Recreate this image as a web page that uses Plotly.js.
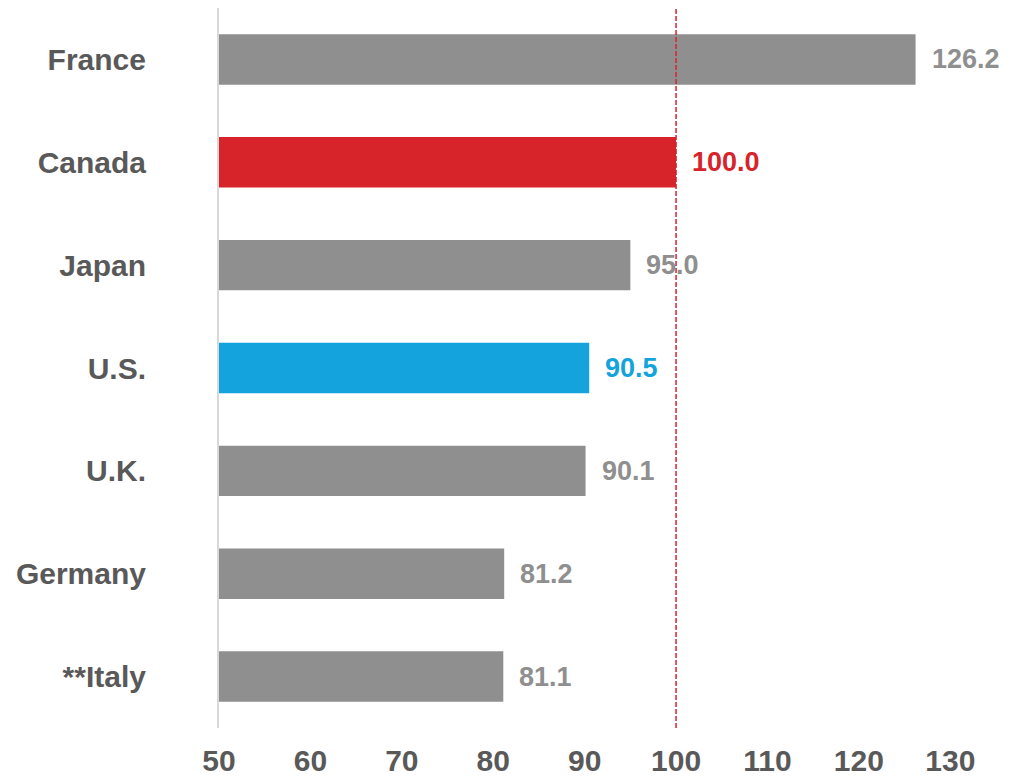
<!DOCTYPE html>
<html>
<head>
<meta charset="utf-8">
<script src="https://cdn.plot.ly/plotly-3.0.1.min.js"></script>
<style>
html,body{margin:0;padding:0;background:#fff;}
#chart{width:1015px;height:780px;}
</style>
</head>
<body>
<div id="chart"></div>
<script>
const countries = ["France", "Canada", "Japan", "U.S.", "U.K.", "Germany", "**Italy"];
const values = [126.2, 100.0, 95.0, 90.5, 90.1, 81.2, 81.1];
const barColors = ["#8f8f8f", "#d7232a", "#8f8f8f", "#14a3dc", "#8f8f8f", "#8f8f8f", "#8f8f8f"];
const labelColors = ["#8f8f8f", "#d7232a", "#8f8f8f", "#14a3dc", "#8f8f8f", "#8f8f8f", "#8f8f8f"];
const tickVals = [50, 60, 70, 80, 90, 100, 110, 120, 130];
const refValue = 100;

const FONT = "Liberation Sans, Arial, Helvetica, sans-serif";

const trace = {
  type: "bar",
  orientation: "h",
  y: countries,
  x: values,
  base: 0,
  marker: {color: barColors, line: {width: 0}},
  hoverinfo: "none",
  cliponaxis: false
};

const annotations = countries.map((c, i) => ({
  x: values[i],
  y: c,
  xref: "x",
  yref: "y",
  text: values[i].toFixed(1),
  showarrow: false,
  xanchor: "left",
  yanchor: "middle",
  xshift: 14,
  font: {family: FONT, size: 27, color: labelColors[i], weight: "bold"}
}));

const layout = {
  width: 1015,
  height: 780,
  margin: {l: 219, r: 19, t: 8, b: 52},
  paper_bgcolor: "#ffffff",
  plot_bgcolor: "#ffffff",
  showlegend: false,
  bargap: 0.51,
  xaxis: {
    range: [50, 135],
    tickvals: tickVals,
    ticktext: tickVals.map(String),
    showgrid: false,
    zeroline: false,
    showline: false,
    ticks: "",
    ticklabelstandoff: 12,
    tickfont: {family: FONT, size: 30, color: "#595959", weight: "bold"},
    fixedrange: true
  },
  yaxis: {
    autorange: "reversed",
    showgrid: false,
    zeroline: false,
    showline: true,
    linecolor: "#d9d9d9",
    linewidth: 2,
    ticks: "",
    ticklabelstandoff: 65,
    tickfont: {family: FONT, size: 30, color: "#595959", weight: "bold"},
    fixedrange: true
  },
  shapes: [{
    type: "line",
    xref: "x",
    yref: "paper",
    x0: refValue, x1: refValue,
    y0: 0, y1: 1,
    line: {color: "#d7232a", width: 1.5, dash: "5px,2px"}
  }],
  annotations: annotations
};

Plotly.newPlot("chart", [trace], layout, {displayModeBar: false, staticPlot: true});
</script>
</body>
</html>
